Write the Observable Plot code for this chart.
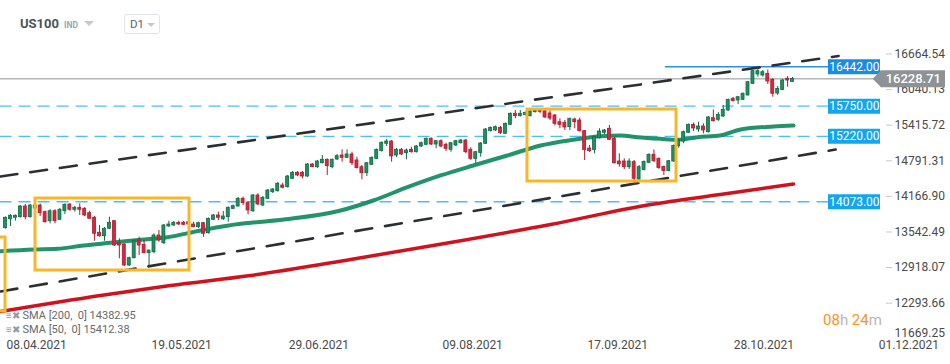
<!DOCTYPE html>
<html><head><meta charset="utf-8">
<script src="https://cdn.jsdelivr.net/npm/d3@7"></script>
<script src="https://cdn.jsdelivr.net/npm/@observablehq/plot@0.6"></script>
<style>
body{margin:0;background:#fff;font-family:Roboto,"Open Sans",sans-serif;}
#wrap{position:relative;width:950px;height:364px;overflow:hidden;}
.ov{position:absolute;white-space:pre;}
</style></head><body>
<div id="wrap">
  <div class="ov" style="left:20px;top:16px;font-size:13px;font-weight:700;color:#4b5259;">US100</div>
  <div class="ov" style="left:64px;top:20px;font-size:8.5px;font-weight:700;color:#9aa6b0;">IND</div>
  <div class="ov" style="left:84px;top:21px;width:0;height:0;border-left:5px solid transparent;border-right:5px solid transparent;border-top:5px solid #c3c9ce;"></div>
  <div class="ov" style="left:124px;top:14px;width:34px;height:18px;border:1px solid #e1e4e7;border-radius:3px;"></div>
  <div class="ov" style="left:130px;top:17px;font-size:11.5px;color:#5a636b;">D1</div>
  <div class="ov" style="left:147px;top:23px;width:0;height:0;border-left:4px solid transparent;border-right:4px solid transparent;border-top:4px solid #c3c9ce;"></div>
  <div class="ov" style="left:6px;top:309px;font-size:11px;color:#6a6a6a;line-height:14px;"><span style="color:#9a9a9a;font-size:10px">≡✖</span> SMA [200,  0] 14382.95
<span style="color:#9a9a9a;font-size:10px">≡✖</span> SMA [50,  0] 15412.38</div>
  <div class="ov" style="left:823px;top:311px;font-size:15px;"><span style="color:#f7941d">08</span><span style="color:#b8b8b8">h </span><span style="color:#f7941d">24</span><span style="color:#b8b8b8">m</span></div>
</div>
<script>
// ---- candle data (US100, D1) ----
const openP = [13609,13767,13792,13802,13990,13802,13955,14007,13890,13732,13907,13757,13907,14025,13932,13967,13949,13872,13792,13529,
13469,13599,13732,13346,13323,12955,13083,13393,13318,13171,13188,13481,13346,13639,13657,13704,13704,13714,13674,13627,
13697,13521,13757,13832,13767,13802,13949,13990,14125,14048,13907,14183,14007,14125,14241,14258,14358,14328,14476,14581,
14581,14516,14726,14679,14749,14809,14679,14814,14884,14844,14902,14797,14679,14574,14721,14826,14960,15090,15130,14884,
14984,14925,14984,14942,15042,15072,15177,15077,15135,15072,14984,15060,15100,15147,14984,14826,14928,15090,15311,15323,
15370,15265,15423,15616,15574,15595,15574,15644,15668,15661,15621,15586,15468,15458,15381,15516,15498,15311,15007,14981,
15188,15283,15353,15177,14779,14779,14679,14767,14463,14630,14756,14897,14826,14682,14613,14779,15047,15130,15283,15419,
15340,15393,15293,15539,15510,15568,15674,15879,15849,15861,15937,16142,16305,16288,16317,16209,15972,16033,16230,16174];
const highP = [13806,13849,13841,14007,14025,14025,14037,14034,13911,13932,13932,13955,14034,14037,13990,14037,13972,13907,13814,13657,
13621,13802,13744,13423,13336,13101,13393,13451,13393,13218,13511,13569,13674,13732,13727,13732,13727,13744,13714,13714,
13709,13788,13849,13890,13902,13981,14016,14148,14153,14069,14200,14213,14165,14288,14306,14411,14398,14534,14604,14604,
14604,14744,14744,14797,14884,14823,14823,14902,14984,14984,14942,14855,14709,14762,14858,14998,15121,15165,15147,15007,
15007,14998,15030,15060,15121,15191,15195,15147,15160,15100,15112,15147,15165,15165,15019,14955,15112,15358,15384,15402,
15393,15454,15630,15674,15674,15647,15674,15691,15682,15674,15674,15603,15528,15498,15539,15539,15539,15323,15060,15218,
15353,15340,15411,15200,14914,14826,14826,14797,14709,14788,14911,14981,14841,14700,14797,15069,15165,15314,15437,15454,
15468,15440,15568,15682,15638,15761,15875,15902,15919,15981,16182,16375,16442,16375,16384,16235,16095,16217,16270,16252];
const lowP = [13595,13639,13732,13788,13757,13788,13937,13814,13700,13686,13686,13744,13849,13907,13890,13832,13814,13771,13381,13451,
13381,13586,13288,13072,12937,12937,13072,13130,13160,12955,13160,13364,13323,13627,13639,13657,13657,13657,13627,13604,
13451,13507,13744,13744,13744,13714,13937,13981,14007,13844,13885,14007,13990,14113,14218,14244,14300,14314,14463,14516,
14476,14498,14674,14656,14739,14534,14651,14797,14767,14832,14709,14651,14458,14516,14709,14814,14946,15042,14767,14849,
14884,14809,14925,14928,15025,15060,15060,15002,15019,14955,14942,15042,15086,14914,14797,14739,14855,15077,15297,15305,
15253,15253,15411,15528,15560,15577,15560,15630,15621,15533,15498,15401,15353,15323,15323,15353,15297,14797,14937,14914,
15174,15253,15147,14735,14679,14639,14639,14367,14446,14613,14744,14762,14643,14534,14595,14762,15012,15090,15270,15305,
15293,15265,15279,15472,15481,15551,15656,15823,15779,15849,15928,16130,16258,16258,16130,15907,15937,16024,16082,16165];
const closeP = [13792,13827,13827,13990,13802,14007,14007,13872,13714,13907,13732,13932,14020,13932,13967,13932,13832,13774,13511,13469,
13599,13704,13306,13306,12955,13083,13393,13306,13171,13218,13481,13393,13657,13674,13704,13674,13669,13674,13627,13697,
13511,13774,13832,13792,13814,13967,13995,14125,14048,13920,14183,14025,14142,14270,14288,14388,14318,14516,14581,14534,
14516,14726,14679,14779,14809,14697,14809,14872,14844,14902,14749,14662,14574,14749,14844,14984,15107,15130,14867,14984,
14902,14972,14942,15042,15100,15177,15077,15135,15042,15002,15100,15135,15147,14942,14826,14942,15095,15340,15370,15381,
15275,15440,15616,15574,15616,15630,15656,15674,15651,15551,15533,15440,15419,15375,15528,15468,15311,14981,14960,15205,
15305,15323,15160,14749,14730,14679,14779,14476,14679,14770,14897,14784,14665,14613,14784,15051,15147,15293,15423,15358,
15393,15323,15551,15486,15595,15686,15858,15837,15907,15967,16170,16363,16363,16345,16182,15967,16051,16200,16199,16228.71];

// ---- moving averages (sampled along the drawn lines) ----
const sma50Idx = [-1,5.7,10.5,15.8,21.2,27.3,32.7,39.4,47.5,49.5,57.6,67.7,74.3,81.2,87.9,94.5,101.4,108.1,114.7,120.2,124.2,127.7,132.3,135.8,139.8,144.4,148.5,155.2,159.2];
const sma50Val = [13206,13236,13248,13306,13353,13406,13451,13569,13686,13704,13774,13920,14095,14328,14534,14709,14884,15060,15160,15223,15235,15205,15177,15160,15205,15235,15340,15393,15412.38];
const sma200Idx = [-1,19.2,33.3,49.5,69.7,89.9,110.1,130.3,144.4,159.2];
const sma200Val = [12148,12429,12604,12780,13060,13358,13674,14025,14200,14382.95];

// ---- annotations ----
const levelValues = [16442, 15750, 15220, 14073];
const levelLabels = ["16442.00", "15750.00", "15220.00", "14073.00"];
const currentPrice = 16228.71;
const trendUpper = [{i: -1.01, p: 14516}, {i: 168.3, p: 16629.5}];
const trendLower = [{i: -1.01, p: 12499}, {i: 167.7, p: 14989.5}];
const boxes = [
  {i1: 6.06, i2: 37.17, p1: 12867, p2: 14130},
  {i1: 105.45, i2: 135.56, p1: 14428, p2: 15691},
  {i1: -5, i2: 0, p1: 12148, p2: 13446}
];

// ---- axes ----
const yTicks = [11669.25, 12293.66, 12918.07, 13542.49, 14166.90, 14791.31, 15415.72, 16040.13, 16664.54];
const dateLabels = ["08.04.2021","19.05.2021","29.06.2021","09.08.2021","17.09.2021","28.10.2021","01.12.2021"];
const dateLabelAt = [0.2, 29.5, 57.2, 88.3, 117.6, 147.1, 176.4];

const candles = openP.map((o, i) => ({i, o, h: highP[i], l: lowP[i], c: closeP[i]}));
const sma50 = sma50Idx.map((i, k) => ({i, v: sma50Val[k]}));
const sma200 = sma200Idx.map((i, k) => ({i, v: sma200Val[k]}));
const dates = dateLabels.map((t, k) => ({t, i: dateLabelAt[k]}));
const levels = levelValues.map((v, k) => ({v, t: levelLabels[k], strong: k === 0}));

const GREEN = "#1f9160", GREEN_D = "#0f6a44", RED = "#d8283f", RED_D = "#a81d2f";
const up = d => d.c >= d.o;

const chart = Plot.plot({
  width: 950, height: 364,
  marginLeft: 0, marginRight: 65, marginTop: 20, marginBottom: 24,
  style: {fontFamily: "Roboto, 'Open Sans', sans-serif", background: "transparent"},
  x: {type: "linear", domain: [0, 159], range: [5, 5 + 159 * 4.95], axis: null},
  y: {type: "linear", domain: [11669.25, 16664.54], range: [338.3, 53.5], axis: null},
  marks: [
    // price axis (right)
    Plot.axisY(yTicks.slice(1), {anchor: "right", tickSize: 6, tickPadding: 3, tickFormat: d => d.toFixed(2), stroke: "#c8c8c8", fill: "#4a4a4a", fontSize: 12}),
    Plot.text([yTicks[0]], {y: d => d, frameAnchor: "right", dx: 9, dy: -6, textAnchor: "start", text: d => d.toFixed(2), fill: "#4a4a4a", fontSize: 12}),
    // date axis
    Plot.text(dates, {x: "i", text: "t", frameAnchor: "bottom", dy: 8, textAnchor: "start", fill: "#4a4a4a", fontSize: 12}),
    // horizontal levels
    Plot.ruleY(levels.filter(d => !d.strong), {y: "v", x1: -1.1, x2: 166.26, stroke: "#4dbdf5", strokeWidth: 1.4, strokeDasharray: "12,7"}),
    Plot.ruleY(levels.filter(d => d.strong), {y: "v", x1: 133.3, x2: 166.26, stroke: "#2f8fe5", strokeWidth: 1.4}),
    Plot.ruleY([currentPrice], {y: d => d, x1: -1.1, x2: 176.8, stroke: "#8e9296", strokeWidth: 1}),
    // moving averages
    Plot.line(sma200, {x: "i", y: "v", stroke: "#d0121e", strokeWidth: 3.5, curve: "monotone-x"}),
    Plot.line(sma50, {x: "i", y: "v", stroke: "#108a5c", strokeWidth: 4, strokeOpacity: 0.92, curve: "monotone-x"}),
    // trend channel
    Plot.line(trendUpper, {x: "i", y: "p", stroke: "#2b2e33", strokeWidth: 2.6, strokeDasharray: "17,13"}),
    Plot.line(trendLower, {x: "i", y: "p", stroke: "#2b2e33", strokeWidth: 2.6, strokeDasharray: "17,13"}),
    // candles
    Plot.ruleX(candles, {x: "i", y1: "l", y2: "h", stroke: d => up(d) ? GREEN_D : RED_D, strokeWidth: 1}),
    Plot.rect(candles, {x1: d => d.i - 0.3, x2: d => d.i + 0.3, y1: "o", y2: "c", fill: d => up(d) ? GREEN : RED, stroke: d => up(d) ? GREEN_D : RED_D, strokeWidth: 0.8}),
    // highlight boxes
    Plot.rect(boxes, {x1: "i1", x2: "i2", y1: "p1", y2: "p2", fill: "none", stroke: "#f8b62b", strokeWidth: 3}),
    // level labels
    Plot.ruleY(levels, {y: "v", x1: 166.26, x2: 176.77, stroke: d => d.strong ? "#1a8be6" : "#14a5ec", strokeWidth: 15}),
    Plot.text(levels, {y: "v", x: 171.5, text: "t", fill: "white", fontSize: 12}),
    // current price label
    Plot.dot([currentPrice], {y: d => d, x: 176.9, symbol: "square", rotate: 45, r: 6.8, fill: "#8e9296", stroke: "none"}),
    Plot.ruleY([currentPrice], {y: d => d, x1: 176.9, x2: 189.9, stroke: "#8e9296", strokeWidth: 17}),
    Plot.text([currentPrice], {y: d => d, x: 183.4, text: d => d.toFixed(2), fill: "white", fontSize: 13, fontWeight: 500})
  ]
});
document.getElementById("wrap").prepend(chart);
chart.style.position = "absolute";
chart.style.left = "0";
chart.style.top = "0";
</script>
</body></html>
